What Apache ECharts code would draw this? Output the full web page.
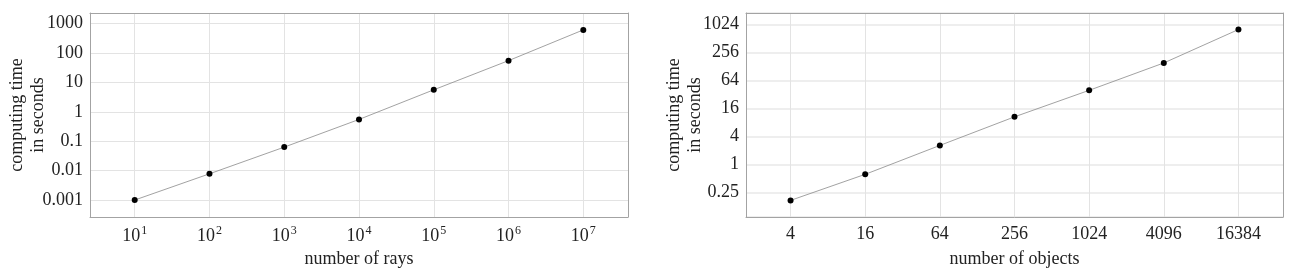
<!DOCTYPE html>
<html>
<head>
<meta charset="utf-8">
<script src="https://cdn.jsdelivr.net/npm/echarts@6/dist/echarts.min.js"></script>
<style>
html,body{margin:0;padding:0;background:#fff;}
#chart{width:1295px;height:275px;}
</style>
</head>
<body>
<div id="chart"></div>
<script>
// ---- data: left panel (number of rays) ----
const raysX = [1e1, 1e2, 1e3, 1e4, 1e5, 1e6, 1e7];
const raysTime = [0.001, 0.0078, 0.063, 0.55, 5.6, 55, 610];
const raysXExponents = [1, 2, 3, 4, 5, 6, 7];
const raysYTickLabels = ['0.001', '0.01', '0.1', '1', '10', '100', '1000'];

// ---- data: right panel (number of objects) ----
const objectsX = [4, 16, 64, 256, 1024, 4096, 16384];
const objectsTime = [0.168, 0.61, 2.55, 10.5, 39, 151, 790];
const objectsXTickLabels = ['4', '16', '64', '256', '1024', '4096', '16384'];
const objectsYTickLabels = ['0.25', '1', '4', '16', '64', '256', '1024'];

const FONT = 'Liberation Serif';
const TXT = '#222';
const FRAME = '#a3a3a3';
const GRIDC = '#e3e3e3';

function labelFromList(list, base, firstExp) {
  return function (v) {
    const e = Math.round(Math.log(v) / Math.log(base));
    const i = e - firstExp;
    return (i >= 0 && i < list.length) ? list[i] : '';
  };
}

const chart = echarts.init(document.getElementById('chart'), null, {renderer: 'canvas'});

const common = {
  z: 0,
  splitLine: {show: true, lineStyle: {color: GRIDC, width: 1}},
  axisLine: {show: false},
  axisTick: {show: false},
  nameMoveOverlap: false
};

function frameAxis(gridIndex, position) {
  return {
    type: 'value', gridIndex: gridIndex, position: position, min: 0, max: 1, z: 5,
    axisLine: {show: true, lineStyle: {color: FRAME, width: 1}},
    axisTick: {show: false}, axisLabel: {show: false}, splitLine: {show: false}
  };
}

chart.setOption({
  animation: false,
  grid: [
    {left: 90, right: 667, top: 13, bottom: 58, containLabel: false},
    {left: 746, right: 12, top: 13, bottom: 58, containLabel: false}
  ],
  xAxis: [
    Object.assign({}, common, {
      type: 'log', logBase: 10, gridIndex: 0,
      min: Math.pow(10, 0.402), max: Math.pow(10, 7.598),
      name: 'number of rays', nameLocation: 'middle', nameGap: 33,
      nameTextStyle: {fontFamily: FONT, fontSize: 18, color: TXT},
      axisLabel: {
        margin: 8, showMinLabel: false, showMaxLabel: false,
        formatter: function (v) {
          const e = Math.round(Math.log10(v));
          const i = raysXExponents.indexOf(e);
          return i >= 0 ? '10{sup|' + raysXExponents[i] + '}' : '';
        },
        fontFamily: FONT, fontSize: 18, color: TXT, lineHeight: 22,
        rich: {sup: {fontFamily: FONT, fontSize: 12, color: TXT, lineHeight: 12, verticalAlign: 'bottom', padding: [0, 0, 10, 1]}}
      }
    }),
    Object.assign({}, common, {
      type: 'log', logBase: 4, gridIndex: 1,
      min: Math.pow(4, 0.403), max: Math.pow(4, 7.597),
      name: 'number of objects', nameLocation: 'middle', nameGap: 33,
      nameTextStyle: {fontFamily: FONT, fontSize: 18, color: TXT},
      axisLabel: {
        margin: 8, showMinLabel: false, showMaxLabel: false,
        formatter: labelFromList(objectsXTickLabels, 4, 1),
        fontFamily: FONT, fontSize: 18, color: TXT
      }
    }),
    frameAxis(0, 'bottom'), frameAxis(0, 'top'),
    frameAxis(1, 'bottom'), frameAxis(1, 'top')
  ],
  yAxis: [
    Object.assign({}, common, {
      type: 'log', logBase: 10, gridIndex: 0,
      min: Math.pow(10, -3.577), max: Math.pow(10, 3.36),
      name: 'computing time\nin seconds', nameLocation: 'middle', nameGap: 41,
      nameTextStyle: {fontFamily: FONT, fontSize: 18, color: TXT, lineHeight: 21},
      axisLabel: {
        margin: 7, showMinLabel: false, showMaxLabel: false,
        formatter: labelFromList(raysYTickLabels, 10, -3),
        fontFamily: FONT, fontSize: 18, color: TXT
      }
    }),
    Object.assign({}, common, {
      type: 'log', logBase: 4, gridIndex: 1,
      min: Math.pow(4, -1.88), max: Math.pow(4, 5.403),
      name: 'computing time\nin seconds', nameLocation: 'middle', nameGap: 40,
      nameTextStyle: {fontFamily: FONT, fontSize: 18, color: TXT, lineHeight: 21},
      splitLine: {show: true, lineStyle: {color: '#e8e8e8', width: 1.5}},
      axisLabel: {
        margin: 7, showMinLabel: false, showMaxLabel: false,
        formatter: labelFromList(objectsYTickLabels, 4, -1),
        fontFamily: FONT, fontSize: 18, color: TXT
      }
    }),
    frameAxis(0, 'left'), frameAxis(0, 'right'),
    frameAxis(1, 'left'), frameAxis(1, 'right')
  ],
  series: [
    {
      type: 'line', xAxisIndex: 0, yAxisIndex: 0, z: 3,
      data: raysX.map((x, i) => [x, raysTime[i]]),
      symbol: 'circle', symbolSize: 6,
      lineStyle: {color: '#8a8a8a', width: 0.8},
      itemStyle: {color: '#000'}
    },
    {
      type: 'line', xAxisIndex: 1, yAxisIndex: 1, z: 3,
      data: objectsX.map((x, i) => [x, objectsTime[i]]),
      symbol: 'circle', symbolSize: 6,
      lineStyle: {color: '#8a8a8a', width: 0.8},
      itemStyle: {color: '#000'}
    }
  ]
});
</script>
</body>
</html>
